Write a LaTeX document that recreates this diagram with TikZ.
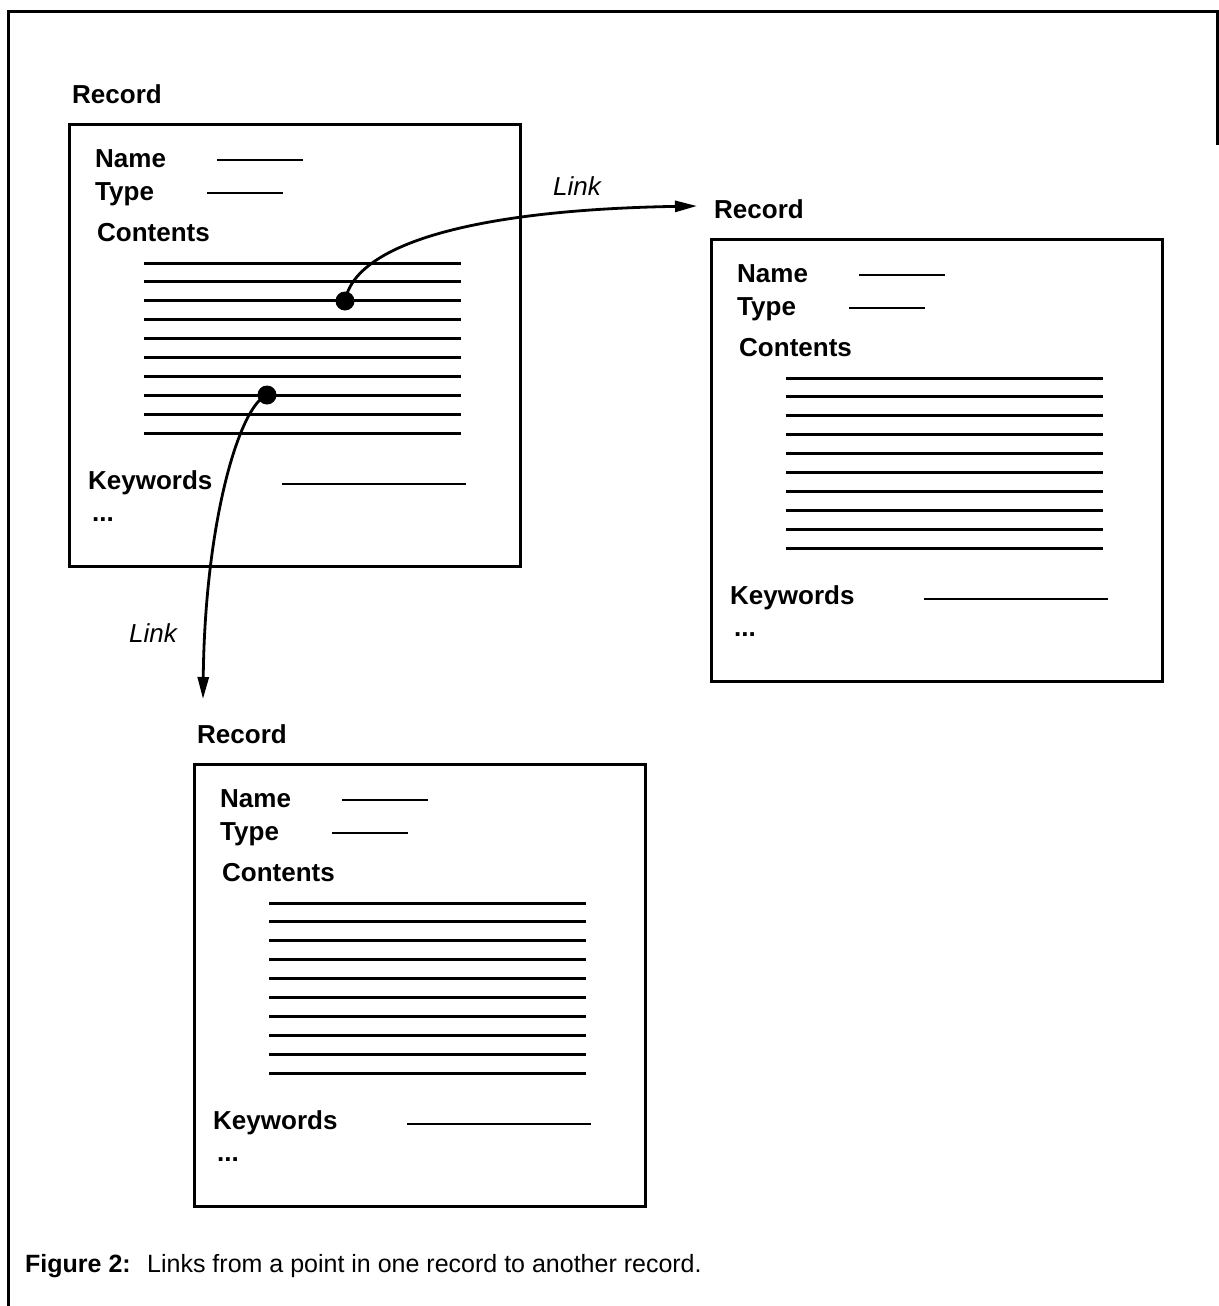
\documentclass[tikz,border=0pt]{standalone}
\usepackage{fontspec}
\setmainfont{Liberation Sans}
\usetikzlibrary{arrows.meta}
\tikzset{
  lbl/.style={anchor=base west, inner sep=0pt, font=\fontsize{26}{30}\selectfont\bfseries},
  ital/.style={anchor=base west, inner sep=0pt, font=\fontsize{26}{30}\selectfont\itshape},
  capt/.style={anchor=base west, inner sep=0pt, font=\fontsize{25}{30}\selectfont},
  recbox/.style={draw, line width=3pt, minimum width=451pt, minimum height=442pt, anchor=north west, inner sep=0pt},
  fieldline/.style={line width=2.6pt},
  textline/.style={line width=3pt},
  linkdot/.style={circle, fill, inner sep=0pt, minimum size=19pt},
  linkarrow/.style={line width=2.8pt, -{Triangle[length=22pt,width=11pt]}},
  outerframe/.style={line width=3pt},
}
\newcommand\drawrecord[3]{%
  \node[lbl] (#1title) at ({72+#2},{103+#3}) {Record};
  \node[recbox] (#1box) at ({68+#2},{123+#3}) {};
  \node[lbl] (#1name) at ({95+#2},{167+#3}) {Name};
  \draw[fieldline] ({217+#2},{160+#3}) -- ({303+#2},{160+#3});
  \node[lbl] (#1type) at ({95+#2},{200+#3}) {Type};
  \draw[fieldline] ({207+#2},{193+#3}) -- ({283+#2},{193+#3});
  \node[lbl] (#1cont) at ({97+#2},{241+#3}) {Contents};
  \foreach \i in {0,...,9}{
    \draw[textline] ({144+#2},{263+18.9*\i+#3}) -- ({461+#2},{263+18.9*\i+#3});
  }
  \node[lbl] (#1kw) at ({88+#2},{489+#3}) {Keywords};
  \draw[fieldline] ({282+#2},{484+#3}) -- ({466+#2},{484+#3});
  \node[lbl] (#1dots) at ({92+#2},{521+#3}) {...};
}
\begin{document}
\begin{tikzpicture}[x=1pt,y=-1pt]
  \useasboundingbox (0,0) rectangle (1218,1306);
  \draw[outerframe] (8,1306) -- (8,12) -- (1217,12) -- (1217,145);

  \drawrecord{ra}{0}{0}
  \drawrecord{rb}{642}{115}
  \drawrecord{rc}{125}{640}

  \node[linkdot] (d1) at (345,301) {};
  \node[linkdot] (d2) at (267,395) {};
  \coordinate (t1) at (697,206);
  \coordinate (t2) at (203,699);

  \draw[linkarrow] (d1.center) .. controls (355,245) and (470,210) .. (t1);
  \draw[linkarrow] (d2.center) .. controls (240,405) and (205,520) .. (t2);

  \node[ital] (link1) at (553,195) {Link};
  \node[ital] (link2) at (129,642) {Link};

  \node[capt, font=\fontsize{25}{30}\selectfont\bfseries] (cap1) at (25,1272) {Figure 2:};
  \node[capt] (cap2) at (147,1272) {Links from a point in one record to another record.};
\end{tikzpicture}
\end{document}
